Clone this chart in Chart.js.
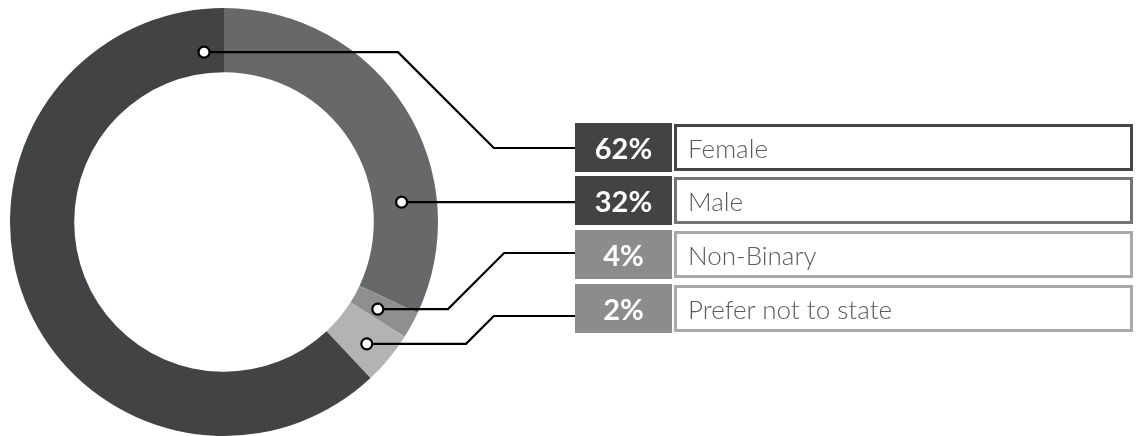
<!DOCTYPE html>
<html>
<head>
<meta charset="utf-8">
<script src="https://cdn.jsdelivr.net/npm/chart.js@4/dist/chart.umd.min.js"></script>
<style>
    html, body { margin: 0; padding: 0; background: #ffffff; }
    #wrap { position: relative; width: 1140px; height: 436px; font-family: Lato, sans-serif; }
    #genderChart { position: absolute; left: 0; top: 0; }
    .row { position: absolute; left: 575px; height: 49px; width: 558px; }
    .badge {
        position: absolute; left: 0; top: 0; width: 97px; height: 49px;
        color: #ffffff; font-weight: 700; font-size: 29px;
        display: flex; align-items: center; justify-content: center;
    }
    .box {
        position: absolute; left: 99px; top: 1px; right: 0; height: 47px;
        box-sizing: border-box; border: 3px solid #444;
        color: #5a5a5a; font-weight: 300; font-size: 26px;
        display: flex; align-items: center; padding-left: 11px;
    }
</style>
</head>
<body>
<div id="wrap">
    <canvas id="genderChart" width="1140" height="436"></canvas>
    <div id="legendRows"></div>
</div>
<script>
// printed legend
const legendPercents = ['62%', '32%', '4%', '2%'];
const legendLabels = ['Female', 'Male', 'Non-Binary', 'Prefer not to state'];

// ring slices as drawn, clockwise from 12 o'clock
const sliceLabels = ['Male', 'Non-Binary', 'Prefer not to state', 'Female'];
const sliceValues = [32, 2, 4, 62];
const sliceColors = ['#67686a', '#8e8f8f', '#b2b3b2', '#424345'];

const badgeColors = ['#424345', '#424345', '#8c8c8c', '#8c8c8c'];
const boxBorders = ['#454545', '#747474', '#a9a9a9', '#a9a9a9'];
const rowTops = [123, 176, 230, 284];

// callouts: which slice, where on it, and which legend row
const callouts = [
    { slice: 3, along: 0.97, depth: 0.33, elbowX: 398, endY: 148 },
    { slice: 0, along: 0.726, depth: 0.45, elbowX: null, endY: null },
    { slice: 1, along: 0.6, depth: 0.42, elbowX: 448, endY: 253 },
    { slice: 2, along: 0.56, depth: 0.59, elbowX: 466, endY: 316 }
];

function buildLegend() {
    const holder = document.getElementById('legendRows');
    legendLabels.forEach((label, i) => {
        const row = document.createElement('div');
        row.className = 'row';
        row.style.top = rowTops[i] + 'px';
        row.innerHTML = `<div class="badge" style="background:${badgeColors[i]}">${legendPercents[i]}</div>` +
            `<div class="box" style="border-color:${boxBorders[i]}">${label}</div>`;
        holder.appendChild(row);
    });
}

const calloutPlugin = {
    id: 'callouts',
    afterDatasetsDraw(chart) {
        const ctx = chart.ctx;
        const arcs = chart.getDatasetMeta(0).data;
        const legendLeft = 575;
        ctx.save();
        ctx.strokeStyle = '#000000';
        ctx.lineWidth = 2.2;
        callouts.forEach(c => {
            const arc = arcs[c.slice];
            const a = arc.startAngle + (arc.endAngle - arc.startAngle) * c.along;
            const r = arc.innerRadius + (arc.outerRadius - arc.innerRadius) * c.depth;
            const px = arc.x + Math.cos(a) * r;
            const py = arc.y + Math.sin(a) * r;
            const endY = c.endY === null ? py : c.endY;
            const dot = 5.5;

            ctx.beginPath();
            ctx.moveTo(px + dot, py);
            if (c.elbowX !== null) {
                ctx.lineTo(c.elbowX, py);
                ctx.lineTo(c.elbowX + Math.abs(endY - py), endY);
            }
            ctx.lineTo(legendLeft, endY);
            ctx.stroke();

            ctx.beginPath();
            ctx.arc(px, py, dot, 0, Math.PI * 2);
            ctx.fillStyle = '#ffffff';
            ctx.fill();
            ctx.stroke();
        });
        ctx.restore();
    }
};

buildLegend();

new Chart(document.getElementById('genderChart').getContext('2d'), {
    type: 'doughnut',
    data: {
        labels: sliceLabels,
        datasets: [{
            data: sliceValues,
            backgroundColor: sliceColors,
            borderWidth: 0,
            hoverOffset: 0
        }]
    },
    options: {
        responsive: false,
        animation: false,
        cutout: '70%',
        layout: { padding: { left: 10, top: 8, bottom: 0, right: 702 } },
        plugins: {
            legend: { display: false },
            tooltip: { enabled: false }
        },
        events: []
    },
    plugins: [calloutPlugin]
});
</script>
</body>
</html>
